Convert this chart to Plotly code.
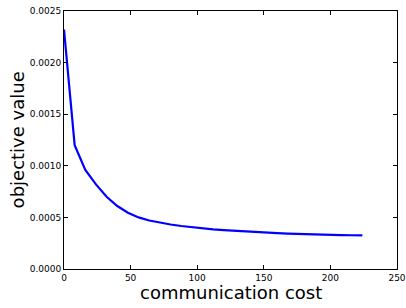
import plotly.graph_objects as go

x_vals = [0, 8, 16, 24, 32, 40, 48, 56, 64, 72, 80, 88, 96, 104, 112, 120,
          128, 136, 144, 152, 160, 168, 176, 184, 192, 200, 208, 216, 224]
y_vals = [0.00232, 0.00120, 0.00096, 0.00082, 0.00070, 0.00061, 0.000545, 0.000500,
          0.000470, 0.000448, 0.000431, 0.000417, 0.000404, 0.000393, 0.000384, 0.000376,
          0.000369, 0.000363, 0.000357, 0.000352, 0.000347, 0.000343, 0.000339, 0.000336,
          0.000333, 0.000331, 0.000329, 0.000327, 0.000325]
x_ticks = [0, 50, 100, 150, 200, 250]
y_ticks = [0.0, 0.0005, 0.0010, 0.0015, 0.0020, 0.0025]

fig = go.Figure()
fig.add_trace(go.Scatter(x=x_vals, y=y_vals, mode="lines",
                         line=dict(color="#0000ff", width=2.2), showlegend=False))

axis_common = dict(showline=True, linecolor="black", linewidth=1, mirror="ticks",
                   ticks="inside", ticklen=4, tickwidth=1, tickcolor="black",
                   showgrid=False, zeroline=False, automargin=False,
                   tickfont=dict(family="DejaVu Sans", size=9, color="black"))

fig.update_layout(
    width=406, height=308,
    margin=dict(l=64, r=9, t=11, b=39),
    paper_bgcolor="white", plot_bgcolor="white",
    xaxis=dict(range=[0, 250], tickvals=x_ticks, ticktext=[str(v) for v in x_ticks],
               **axis_common),
    yaxis=dict(range=[0, 0.0025], tickvals=y_ticks, ticktext=[f"{v:.4f}" for v in y_ticks],
               **axis_common),
    annotations=[
        dict(text="communication cost", xref="paper", yref="paper", x=0.5, y=-0.093,
             xanchor="center", yanchor="middle", showarrow=False,
             font=dict(family="DejaVu Sans", size=18, color="black")),
        dict(text="objective value", xref="paper", yref="paper", x=-0.14, y=0.5,
             xanchor="center", yanchor="middle", textangle=-90, showarrow=False,
             font=dict(family="DejaVu Sans", size=18, color="black")),
    ],
)

fig.write_html("out.html", config={"displayModeBar": False},
               post_script="document.body.style.margin='0';document.body.style.overflow='hidden';")
